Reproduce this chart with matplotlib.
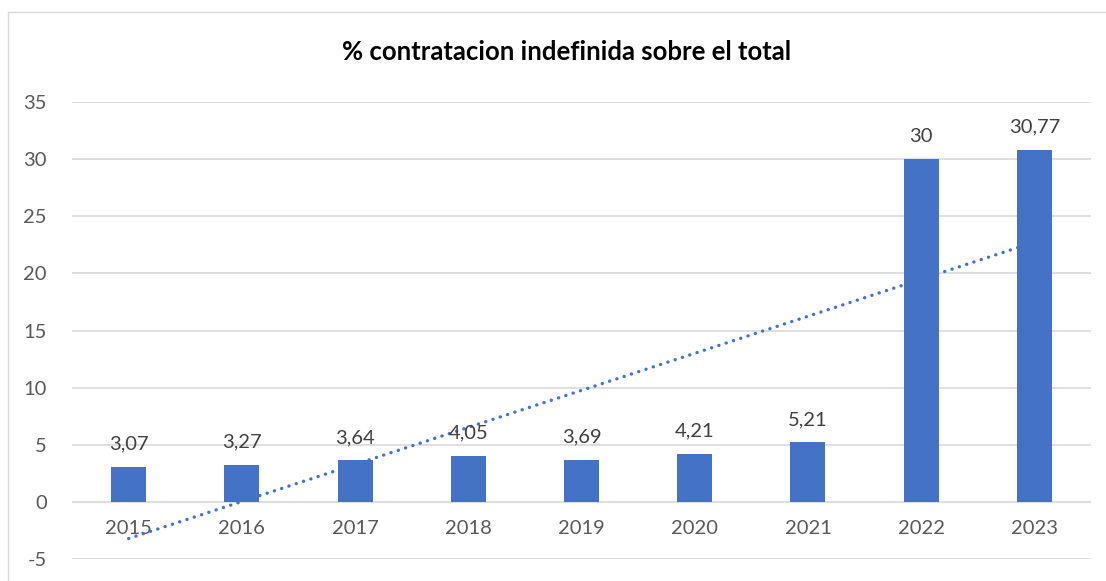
import numpy as np
import matplotlib
matplotlib.use("Agg")
import matplotlib.pyplot as plt
from matplotlib.patches import Rectangle

years = ["2015", "2016", "2017", "2018", "2019", "2020", "2021", "2022", "2023"]
values = [3.07, 3.27, 3.64, 4.05, 3.69, 4.21, 5.21, 30, 30.77]
value_labels = ["3,07", "3,27", "3,64", "4,05", "3,69", "4,21", "5,21", "30", "30,77"]
yticks = [-5, 0, 5, 10, 15, 20, 25, 30, 35]
title = "% contratacion indefinida sobre el total"

plt.rcParams['font.family'] = ['Lato', 'DejaVu Sans']

W, H = 1106, 581
fig = plt.figure(figsize=(W / 100, H / 100), dpi=100)
fig.patch.set_facecolor("white")

# chart border
fig.patches.append(Rectangle((8 / W, -0.1), 1.2, 1 - 12 / H + 0.1, transform=fig.transFigure,
                             fill=False, edgecolor="#d9d9d9", linewidth=1.0))

ax = fig.add_axes([72 / W, (H - 559.3) / H, (1091 - 72) / W, (559.3 - 101.7) / H])
x = np.arange(len(years))
ax.bar(x, values, width=0.31, color="#4472C4", zorder=3)

# linear trendline (fitted to data)
coef = np.polyfit(x, values, 1)
trend = np.polyval(coef, x)
ax.plot(x, trend, color="#4472C4", linewidth=2.4, linestyle=(0, (0.05, 2.25)),
        dash_capstyle="round", zorder=2)

for xi, v, lab in zip(x, values, value_labels):
    ax.annotate(lab, (xi, v), xytext=(0, 12.5), textcoords="offset points",
                ha="center", va="baseline", fontsize=14.5, color="#404040", zorder=4)

ax.set_xlim(-0.5, len(years) - 0.5)
ax.set_ylim(-5, 35)
ax.set_yticks(yticks)
ax.set_yticklabels([str(t) for t in yticks])
ax.grid(axis="y", color="#d9d9d9", linewidth=1.2, zorder=0)
ax.set_axisbelow(True)
for s in ax.spines.values():
    s.set_visible(False)
ax.spines["bottom"].set_position(("data", 0))
ax.set_xticks(x)
ax.set_xticklabels(years)
ax.tick_params(axis="x", length=0, pad=13, labelsize=14.5, labelcolor="#595959")
ax.tick_params(axis="y", length=0, pad=18, labelsize=14.5, labelcolor="#595959")

fig.text(567 / W, 1 - 52 / H, title, ha="center", va="center", fontsize=18.5,
         fontweight="bold", color="#000000")

fig.savefig("out.png", dpi=100)
